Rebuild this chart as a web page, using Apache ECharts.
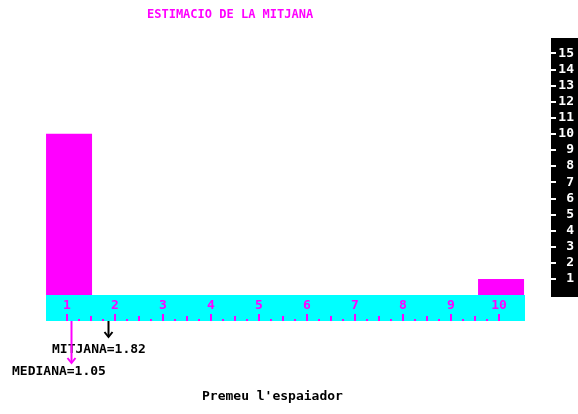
<!DOCTYPE html>
<html>
<head>
<meta charset="utf-8">
<script src="https://cdn.jsdelivr.net/npm/echarts@6/dist/echarts.min.js"></script>
<style>html,body{margin:0;padding:0;background:#fff}#c{width:578px;height:414px}</style>
</head>
<body>
<div id="c"></div>
<script>
const classes = [1, 2, 3, 4, 5, 6, 7, 8, 9, 10];
const frequencies = [10, 0, 0, 0, 0, 0, 0, 0, 0, 1];
const mean = 1.82;
const median = 1.05;
const yTickMin = 1;
const yTickMax = 15;
const titleText = 'ESTIMACIO DE LA MITJANA';
const meanLabel = 'MITJANA';
const medianLabel = 'MEDIANA';
const footerText = "Premeu l'espaiador";

const MAG = '#ff00ff';
const CYAN = '#00ffff';
const FONT = '"DejaVu Sans Mono", monospace';

const barData = classes.map((c, i) => [c, frequencies[i]]);
const arrowData = [[mean], [median]];
const arrowColors = ['#000000', MAG];
const arrowLengths = [16, 42];

// plot grid geometry (value 0 at y=295, 16 at y=37)
const plotTop = 37, plotBottom = 295, yMax = 16;
const unit = (plotBottom - plotTop) / yMax;

const chart = echarts.init(document.getElementById('c'), null, {renderer: 'canvas'});
chart.setOption({
  animation: false,
  backgroundColor: '#ffffff',
  title: {
    text: titleText, left: 147, top: 9, padding: 0,
    textStyle: {color: MAG, fontFamily: FONT, fontWeight: 'bold', fontSize: 12}
  },
  graphic: [
    {type: 'rect', z: 0, shape: {x: 551, y: 38, width: 27, height: 259}, style: {fill: '#000'}},
    {type: 'text', left: 52, top: 343, style: {text: meanLabel + '=' + mean.toFixed(2), fill: '#000', font: 'bold 13px ' + FONT}},
    {type: 'text', left: 12, top: 365, style: {text: medianLabel + '=' + median.toFixed(2), fill: '#000', font: 'bold 13px ' + FONT}},
    {type: 'text', left: 202, top: 390, style: {text: footerText, fill: '#000', font: 'bold 13px ' + FONT}}
  ],
  grid: [
    {left: 46, right: 52, top: plotTop, height: plotBottom - plotTop},
    {left: 46, right: 53, top: 295, height: 26, show: true, backgroundColor: CYAN, borderWidth: 0},
    {left: 67, right: 79, top: 295, height: 26},
    {left: 46, right: 52, top: 321, height: 50},
    {left: 46, right: 52, top: plotBottom - yTickMax * unit, height: (yTickMax - yTickMin) * unit}
  ],
  xAxis: [
    {gridIndex: 0, type: 'value', min: 0.52, max: 10.52, show: false},
    {gridIndex: 1, type: 'value', min: 0, max: 1, show: false},
    {gridIndex: 2, type: 'value', min: 1, max: 10, interval: 1, z: 5, position: 'bottom',
      axisLine: {show: false, onZero: false}, splitLine: {show: false},
      axisTick: {show: true, inside: true, length: 7, lineStyle: {color: MAG, width: 2}},
      minorTick: {show: true, splitNumber: 4, length: 2, lineStyle: {color: MAG, width: 2}},
      minorSplitLine: {show: false},
      axisLabel: {inside: true, margin: 9, color: MAG, fontFamily: FONT, fontWeight: 'bold', fontSize: 13}
    },
    {gridIndex: 2, type: 'value', min: 1, max: 10, interval: 0.5, z: 5, position: 'bottom',
      axisLine: {show: false, onZero: false}, splitLine: {show: false}, axisLabel: {show: false},
      axisTick: {show: true, inside: true, length: 5, lineStyle: {color: MAG, width: 2}}
    },
    {gridIndex: 3, type: 'value', min: 0.52, max: 10.52, show: false},
    {gridIndex: 4, type: 'value', min: 0, max: 1, show: false, axisLine: {onZero: false}}
  ],
  yAxis: [
    {gridIndex: 0, type: 'value', min: 0, max: yMax, show: false},
    {gridIndex: 1, type: 'value', show: false},
    {gridIndex: 2, type: 'value', show: false},
    {gridIndex: 3, type: 'value', min: 0, max: 50, inverse: true, show: false},
    {gridIndex: 4, type: 'value', min: yTickMin, max: yTickMax, interval: 1, position: 'right', offset: 25, z: 10,
      axisLine: {show: false, onZero: false}, splitLine: {show: false},
      axisTick: {show: true, length: 5, lineStyle: {color: '#fff', width: 2}},
      axisLabel: {color: '#fff', align: 'right', margin: 23, fontFamily: FONT, fontWeight: 'bold', fontSize: 13}
    }
  ],
  series: [
    {type: 'bar', xAxisIndex: 0, yAxisIndex: 0, data: barData, barWidth: 46,
      itemStyle: {color: MAG}},
    {type: 'custom', xAxisIndex: 4, yAxisIndex: 3, data: arrowData,
      renderItem: function (params, api) {
        const i = params.dataIndex;
        const p0 = api.coord([api.value(0), 0]);
        const p1 = api.coord([api.value(0), arrowLengths[i]]);
        const x = Math.round(p0[0]) + 0.5;
        const c = arrowColors[i];
        return {
          type: 'group',
          children: [
            {type: 'line', shape: {x1: x, y1: p0[1], x2: x, y2: p1[1]}, style: {stroke: c, lineWidth: 2}},
            {type: 'polyline', shape: {points: [[x - 4, p1[1] - 5], [x, p1[1]], [x + 4, p1[1] - 5]]}, style: {stroke: c, lineWidth: 2, fill: null}}
          ]
        };
      }
    }
  ]
});
</script>
</body>
</html>
